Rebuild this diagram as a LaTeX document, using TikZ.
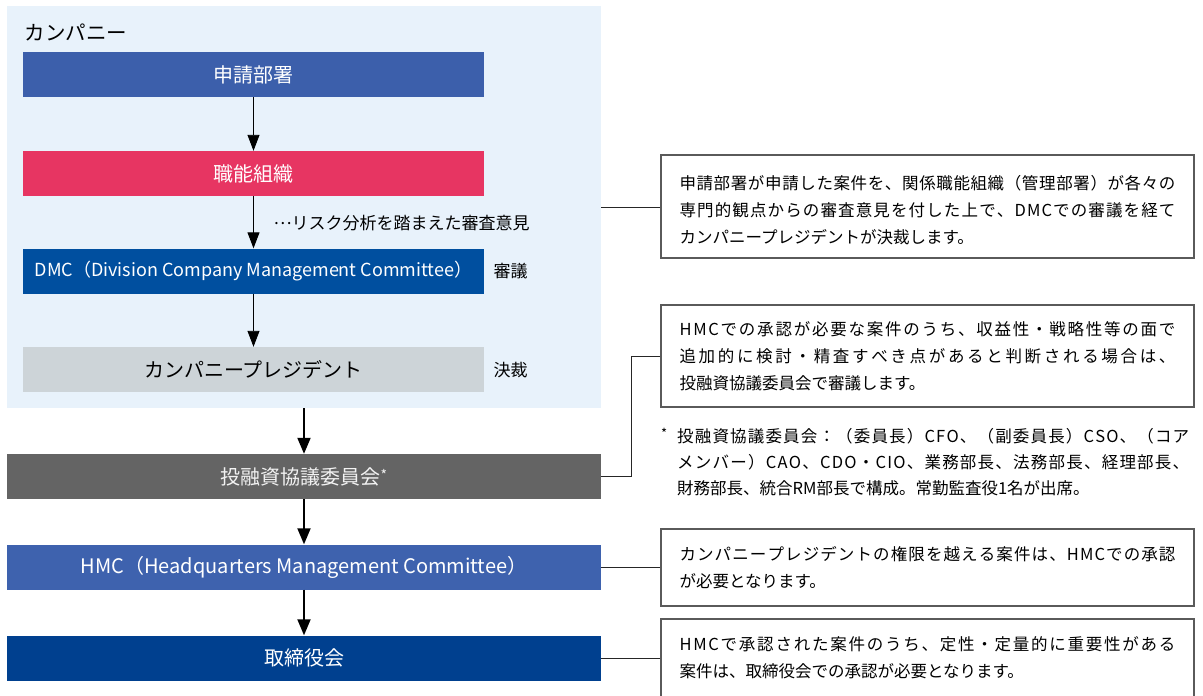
\documentclass[tikz,border=0pt]{standalone}
\usepackage{fontspec}
\setmainfont{Noto Sans CJK JP}
\usepackage{xcolor}
\usepackage{tikz}
\usetikzlibrary{arrows.meta, positioning, calc}

\definecolor{bgblue}{HTML}{E8F2FB}
\definecolor{appblue}{HTML}{3C5FAB}
\definecolor{funcred}{HTML}{E73562}
\definecolor{dmcblue}{HTML}{004F9F}
\definecolor{presgray}{HTML}{CDD4D8}
\definecolor{invgray}{HTML}{646464}
\definecolor{hmcblue}{HTML}{3E62AE}
\definecolor{boardblue}{HTML}{00408F}
\definecolor{notegray}{HTML}{5A5A5A}

% one justified line of a note: glue between every character
\makeatletter
\def\jl@loop#1{\ifx#1\relax\else\hskip0pt plus 1fil\relax#1\expandafter\jl@loop\fi}
\def\jl@first#1{#1\jl@loop}
\newcommand{\jline}[2][496pt]{\hbox to #1{\jl@first#2\relax}}
\makeatother

\tikzset{
  flowbox/.style={minimum width=461pt, minimum height=45pt, inner sep=0pt, font=\fontsize{20}{24}\selectfont, text=white},
  widebox/.style={minimum width=594pt, minimum height=45pt, inner sep=0pt, font=\fontsize{20}{24}\selectfont, text=white},
  note/.style={draw=notegray, line width=1.2pt, align=left, inner xsep=18.5pt, inner ysep=0pt, minimum width=533pt, font=\fontsize{16.5}{27}\selectfont},
  side/.style={anchor=west, font=\fontsize{17}{20}\selectfont},
  thinarrow/.style={line width=0.9pt, -{Triangle[width=12pt,length=16pt]}},
  thickarrow/.style={line width=2pt, -{Triangle[width=13pt,length=16pt]}},
  leader/.style={line width=1pt, draw=black!85}
}

\begin{document}
\begin{tikzpicture}[x=1pt, y=-1pt]
\useasboundingbox (0,0) rectangle (1203,696);

% Company area
\node[fill=bgblue, minimum width=594pt, minimum height=402pt, inner sep=0pt] (company) at (304,207) {};
\node[anchor=west, font=\fontsize{20.5}{24}\selectfont] (companylbl) at (21,32) {カンパニー};

\node[flowbox, fill=appblue] (apply) at (253.5,74.5) {申請部署};
\node[flowbox, fill=funcred] (func) at (253.5,173.5) {職能組織};
\node[flowbox, fill=dmcblue, font=\fontsize{18}{22}\selectfont] (dmc) at (253.5,271) {DMC（Division Company Management Committee）};
\node[flowbox, fill=presgray, text=black] (pres) at (253.5,369.5) {カンパニープレジデント};

\node[side] (risk) at (270,223) {\raisebox{5pt}{…}リスク分析を踏まえた審査意見};
\node[side] (deliberate) at (490,271) {審議};
\node[side] (decide) at (490,370) {決裁};

\draw[thinarrow] (apply) -- (func);
\draw[thinarrow] (func) -- (dmc);
\draw[thinarrow] (dmc) -- (pres);

% Headquarters
\node[widebox, fill=invgray, text=white!90!gray] (invest) at (304,476.5) {投融資協議委員会\raisebox{4pt}{\fontsize{14}{14}\selectfont*}};
\node[widebox, fill=hmcblue] (hmc) at (304,567) {HMC（Headquarters Management Committee）};
\node[widebox, fill=boardblue] (board) at (304,658) {取締役会};

\draw[thickarrow] (company) -- (invest);
\draw[thickarrow] (invest) -- (hmc);
\draw[thickarrow] (hmc) -- (board);

% Notes
\node[note, minimum height=103pt] (note1) at (927.5,206.5)
  {\rule{0pt}{20.5pt}\jline{申請部署が申請した案件を、関係職能組織（管理部署）が各々の}\\
   \jline{専門的観点からの審査意見を付した上で、DMCでの審議を経て}\\
   カンパニープレジデントが決裁します。};
\node[note, minimum height=102pt] (note2) at (927.5,356)
  {\jline{HMCでの承認が必要な案件のうち、収益性・戦略性等の面で}\\
   \jline{追加的に検討・精査すべき点があると判断される場合は、}\\
   投融資協議委員会で審議します。};
\node[anchor=west, align=left, inner sep=0pt, font=\fontsize{16.5}{26}\selectfont] (members) at (661,462)
  {\makebox[16pt][l]{\raisebox{4pt}{\fontsize{13}{13}\selectfont*}}\jline[512pt]{投融資協議委員会：（委員長）CFO、（副委員長）CSO、（コア}\\
   \hspace*{16pt}\jline[512pt]{メンバー）CAO、CDO・CIO、業務部長、法務部長、経理部長、}\\
   \hspace*{16pt}財務部長、統合RM部長で構成。常勤監査役1名が出席。};
\node[note, minimum height=77pt] (note3) at (927.5,567.5)
  {\jline{カンパニープレジデントの権限を越える案件は、HMCでの承認}\\
   が必要となります。};
\node[note, minimum height=78pt] (note4) at (927.5,658)
  {\jline{HMCで承認された案件のうち、定性・定量的に重要性がある}\\
   案件は、取締役会での承認が必要となります。};

\draw[leader] (company.east) -- (company.east -| note1.west);
\draw[leader] (invest.east) -- ++(30,0) |- (note2.west);
\draw[leader] (hmc.east) -- (hmc.east -| note3.west);
\draw[leader] (board.east) -- (board.east -| note4.west);
\end{tikzpicture}
\end{document}
